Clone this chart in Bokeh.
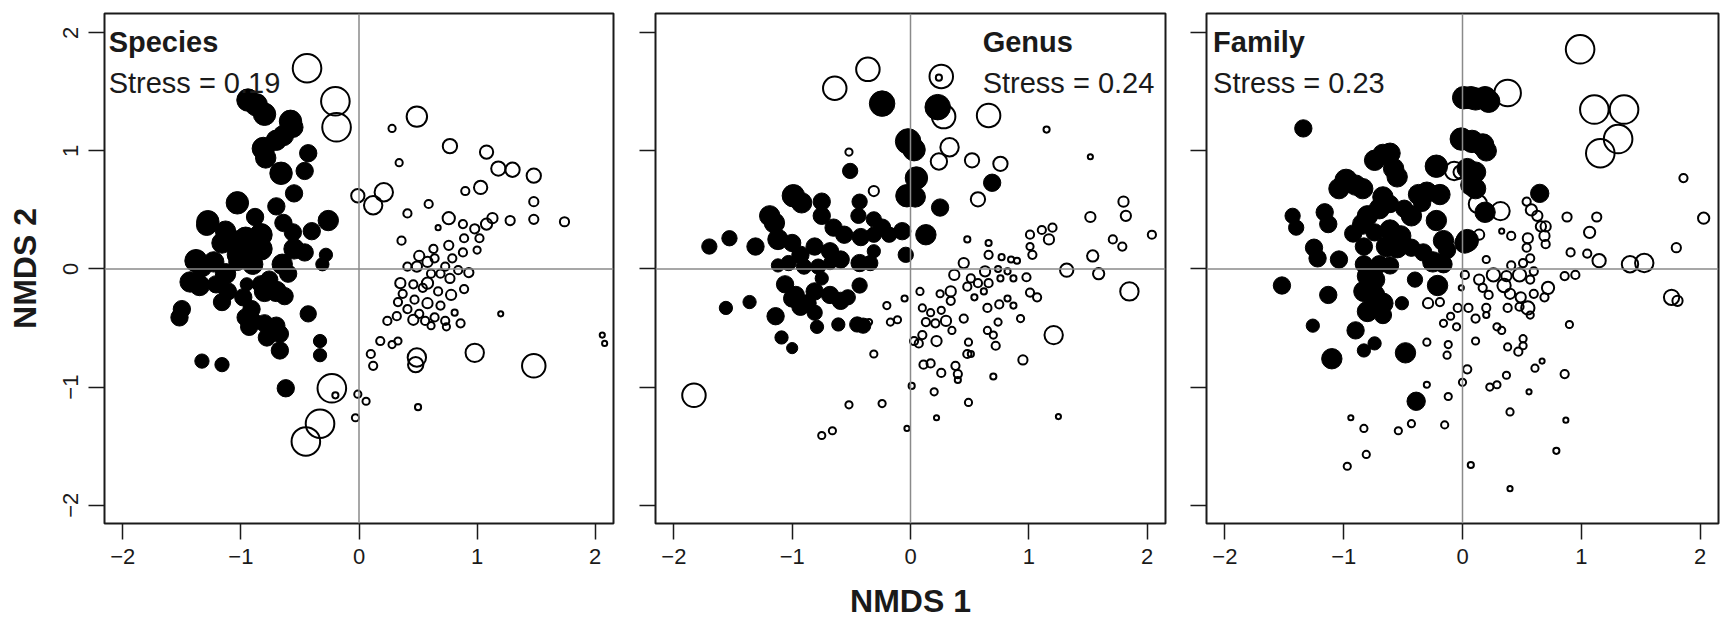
from bokeh.plotting import figure
from bokeh.layouts import row
from bokeh.models import Span, Label, FixedTicker, Range1d, ColumnDataSource
from bokeh.embed import file_html
from bokeh.resources import INLINE

# ---- data: (NMDS1, NMDS2, relative abundance / symbol cex) ----
species_filled = [
    (-0.94,1.43,2.2),(-0.87,1.39,2.2),(-0.80,1.31,2.2),(-0.58,1.25,2.2),(-0.56,1.20,2.0),(-0.64,1.13,2.0),
    (-0.70,1.09,2.0),(-0.81,1.02,2.2),(-0.79,0.94,2.0),(-0.66,0.81,2.2),(-0.43,0.98,1.7),(-0.46,0.83,1.7),
    (-0.55,0.64,1.7),(-1.03,0.56,2.2),(-1.28,0.40,2.2),(-1.29,0.37,2.0),(-1.13,0.32,2.0),(-0.88,0.44,1.7),
    (-0.70,0.53,1.7),(-0.64,0.39,1.7),(-0.56,0.31,1.7),(-0.40,0.32,1.7),(-0.26,0.41,2.0),(-1.16,0.22,2.0),
    (-1.06,0.24,2.0),(-0.96,0.26,2.2),(-0.83,0.29,2.2),(-0.83,0.17,2.2),(-1.03,0.12,2.0),(-0.91,0.12,2.0),
    (-0.55,0.17,2.0),(-0.46,0.14,1.7),(-0.28,0.12,1.3),(-0.31,0.04,1.3),(-1.38,0.07,2.2),(-1.33,0.02,2.0),
    (-1.23,0.06,2.0),(-1.13,-0.04,2.0),(-1.03,0.06,1.7),(-0.90,0.04,2.0),(-0.65,0.04,2.0),(-0.60,-0.04,1.7),
    (-1.43,-0.11,2.0),(-1.35,-0.14,2.0),(-1.21,-0.13,1.7),(-1.11,-0.19,1.7),(-1.16,-0.28,1.7),(-0.95,-0.13,1.3),
    (-0.83,-0.13,1.7),(-0.76,-0.09,1.7),(-0.80,-0.19,2.0),(-0.70,-0.19,2.0),(-0.63,-0.23,1.7),(-0.98,-0.24,1.7),
    (-0.91,-0.34,1.7),(-1.50,-0.34,1.7),(-1.52,-0.41,1.7),(-0.96,-0.41,1.7),(-0.90,-0.44,1.7),(-0.80,-0.46,1.7),
    (-0.70,-0.48,1.7),(-0.93,-0.49,1.7),(-0.78,-0.58,1.7),(-0.67,-0.55,1.7),(-0.67,-0.69,1.7),(-0.43,-0.38,1.6),
    (-0.33,-0.61,1.3),(-0.33,-0.73,1.3),(-1.33,-0.78,1.4),(-1.16,-0.81,1.4),(-0.62,-1.01,1.7),
]
species_open = [
    (-0.44,1.70,3.0),(-0.20,1.42,3.0),(-0.19,1.20,3.0),(0.49,1.29,2.2),(-0.23,-1.01,3.0),(-0.33,-1.31,3.0),
    (-0.45,-1.46,3.0),(1.48,-0.82,2.5),(0.98,-0.71,2.0),(0.49,-0.75,2.0),(0.48,-0.81,1.7),(0.77,1.04,1.6),
    (1.08,0.99,1.5),(1.18,0.85,1.6),(1.30,0.84,1.6),(1.48,0.79,1.6),(1.03,0.69,1.5),(0.21,0.65,2.0),
    (0.12,0.54,2.0),(-0.01,0.62,1.5),(0.28,1.19,0.9),(0.34,0.90,0.9),(0.90,0.66,1.0),(0.59,0.55,1.0),
    (0.41,0.47,1.0),(1.48,0.57,1.1),(1.48,0.42,1.1),(1.28,0.41,1.1),(1.74,0.40,1.1),(0.76,0.43,1.4),
    (1.08,0.38,1.3),(1.13,0.43,1.2),(0.67,0.35,0.7),(0.36,0.24,1.0),(0.88,0.38,1.0),(0.98,0.34,1.1),
    (1.02,0.26,1.0),(0.89,0.26,1.0),(1.00,0.16,0.9),(0.76,0.20,1.1),(0.88,0.14,1.0),(0.63,0.17,1.0),
    (0.51,0.11,1.2),(0.58,0.06,1.2),(0.64,0.09,1.0),(0.73,0.02,1.0),(0.79,0.09,1.0),(0.41,0.02,1.0),
    (0.49,0.02,1.2),(0.61,-0.04,1.0),(0.69,-0.04,1.0),(0.77,-0.08,1.1),(0.84,-0.01,1.0),(0.93,-0.03,1.1),
    (0.35,-0.12,1.2),(0.46,-0.13,1.0),(0.54,-0.16,1.0),(0.58,-0.12,1.3),(0.67,-0.19,1.0),(0.78,-0.22,1.2),
    (0.89,-0.17,1.0),(0.37,-0.21,1.0),(0.47,-0.26,1.0),(0.58,-0.29,1.2),(0.69,-0.31,1.0),(0.81,-0.37,0.8),
    (0.33,-0.28,1.0),(0.41,-0.34,1.0),(0.51,-0.38,1.0),(0.56,-0.44,1.0),(0.64,-0.41,1.0),(0.73,-0.44,1.0),
    (0.46,-0.43,1.2),(0.61,-0.48,0.9),(0.86,-0.46,1.0),(0.74,-0.49,0.9),(0.24,-0.44,1.0),(0.32,-0.40,1.0),
    (1.20,-0.38,0.7),(0.18,-0.61,1.0),(0.28,-0.64,0.9),(0.33,-0.61,0.9),(0.10,-0.72,1.0),(0.12,-0.82,1.0),
    (-0.01,-1.06,0.9),(0.06,-1.12,0.9),(-0.20,-1.07,0.8),(-0.03,-1.26,0.9),(0.50,-1.17,0.8),(2.06,-0.56,0.7),
    (2.08,-0.63,0.7),
]
genus_filled = [
    (-0.24,1.40,2.5),(0.23,1.37,2.5),(-0.02,1.08,2.5),(0.03,1.01,2.2),(0.05,0.77,2.2),(-0.03,0.62,2.2),
    (0.04,0.61,2.0),(0.69,0.73,1.7),(-0.51,0.83,1.5),(0.25,0.52,1.7),(0.13,0.29,2.0),(-0.99,0.62,2.2),
    (-0.92,0.56,2.0),(-1.19,0.45,2.0),(-1.15,0.39,2.0),(-0.75,0.57,1.7),(-0.75,0.45,1.7),(-0.65,0.35,1.7),
    (-0.56,0.29,1.7),(-0.43,0.57,1.5),(-0.44,0.45,1.5),(-0.31,0.42,1.5),(-0.24,0.35,1.7),(-0.18,0.29,1.5),
    (-0.07,0.32,1.7),(-0.42,0.27,1.7),(-0.31,0.29,1.5),(-1.53,0.26,1.5),(-1.70,0.19,1.5),(-1.31,0.19,1.7),
    (-1.12,0.25,2.0),(-1.00,0.22,1.7),(-0.93,0.12,1.7),(-0.81,0.19,1.7),(-0.68,0.15,1.7),(-0.59,0.08,1.7),
    (-0.43,0.05,1.7),(-0.34,0.05,1.5),(-0.31,0.15,1.3),(-0.04,0.12,1.5),(-1.12,0.03,1.3),(-1.03,0.05,1.5),
    (-0.90,0.02,1.5),(-0.78,0.02,1.5),(-0.68,0.05,1.3),(-1.06,-0.13,1.7),(-0.97,-0.22,1.7),(-0.87,-0.29,1.7),
    (-0.81,-0.19,1.7),(-0.75,-0.08,1.3),(-0.68,-0.22,1.7),(-0.59,-0.27,1.7),(-0.53,-0.24,1.5),(-0.43,-0.14,1.5),
    (-0.93,-0.32,1.7),(-0.81,-0.37,1.5),(-1.00,-0.25,1.7),(-1.36,-0.28,1.3),(-1.56,-0.33,1.3),(-1.14,-0.40,1.7),
    (-0.79,-0.49,1.3),(-0.61,-0.47,1.3),(-0.45,-0.47,1.5),(-0.40,-0.48,1.5),(-1.09,-0.58,1.3),(-1.00,-0.67,1.1),
]
genus_open = [
    (-0.36,1.69,2.5),(-0.64,1.53,2.5),(0.26,1.63,2.5),(0.24,1.62,0.8),(0.28,1.29,2.5),(0.66,1.30,2.5),
    (0.33,1.03,2.0),(0.24,0.91,1.8),(0.52,0.92,1.6),(0.76,0.89,1.6),(0.57,0.59,1.6),(-0.52,0.99,0.9),
    (-0.31,0.66,1.2),(1.15,1.18,0.8),(1.52,0.95,0.7),(1.80,0.57,1.2),(1.82,0.45,1.2),(1.52,0.44,1.2),
    (2.04,0.29,1.0),(1.71,0.25,1.0),(1.79,0.19,1.0),(1.54,0.11,1.3),(1.59,-0.04,1.3),(1.32,-0.01,1.5),
    (1.85,-0.19,2.0),(1.21,-0.56,2.0),(0.95,-0.77,1.1),(-1.83,-1.07,2.5),(0.48,0.25,0.8),(0.66,0.22,0.8),
    (1.01,0.29,1.0),(1.11,0.33,1.0),(1.20,0.35,1.0),(1.17,0.25,1.2),(1.01,0.19,0.9),(1.03,0.12,1.0),
    (0.66,0.12,1.0),(0.77,0.10,0.8),(0.85,0.08,0.8),(0.90,0.07,0.8),(0.45,0.05,1.2),(0.37,-0.05,1.2),
    (0.63,-0.02,1.2),(0.74,0.00,0.8),(0.82,-0.02,0.8),(0.98,-0.07,1.0),(0.51,-0.08,1.0),(0.57,-0.12,1.0),
    (0.66,-0.12,1.0),(0.76,-0.08,0.8),(0.87,-0.08,0.8),(0.48,-0.15,1.0),(0.62,-0.19,0.8),(0.54,-0.24,0.8),
    (1.01,-0.20,1.0),(1.07,-0.24,1.0),(0.82,-0.25,0.8),(0.87,-0.31,0.8),(0.34,-0.19,1.2),(0.25,-0.21,0.9),
    (0.08,-0.19,0.9),(-0.05,-0.25,0.8),(0.34,-0.27,1.0),(0.65,-0.33,1.0),(0.75,-0.30,1.0),(0.10,-0.33,0.9),
    (0.17,-0.37,0.9),(0.26,-0.35,0.9),(0.30,-0.44,1.2),(0.45,-0.42,1.0),(0.13,-0.45,1.0),(0.21,-0.46,1.0),
    (0.35,-0.52,0.9),(0.74,-0.45,0.9),(0.65,-0.52,0.9),(0.70,-0.56,0.9),(0.93,-0.42,0.9),(0.10,-0.56,1.0),
    (0.03,-0.61,1.0),(0.22,-0.61,1.2),(0.49,-0.62,0.9),(0.48,-0.72,1.0),(0.72,-0.65,1.0),(0.07,-0.63,1.0),
    (0.51,-0.72,0.8),(0.11,-0.81,1.0),(0.17,-0.80,1.0),(0.26,-0.88,1.0),(0.38,-0.82,1.0),(0.40,-0.89,1.0),
    (0.40,-0.94,0.8),(0.70,-0.91,0.8),(0.01,-0.99,0.8),(0.20,-1.04,0.9),(0.49,-1.13,0.9),(-0.20,-0.31,0.9),
    (-0.17,-0.45,0.9),(-0.11,-0.43,0.9),(-0.35,-0.45,0.8),(-0.31,-0.72,0.9),(-0.52,-1.15,0.9),(-0.24,-1.14,0.9),
    (0.22,-1.26,0.7),(1.25,-1.25,0.7),(-0.03,-1.35,0.7),(-0.75,-1.41,0.9),(-0.66,-1.37,0.9),
]
family_filled = [
    (-1.34,1.19,1.7),(0.01,1.45,2.2),(0.07,1.45,2.2),(0.11,1.44,2.2),(0.19,1.45,2.2),(0.22,1.42,2.2),
    (-0.01,1.10,2.2),(0.08,1.08,2.2),(0.17,1.05,2.2),(0.20,1.00,2.0),(-0.22,0.87,2.2),(0.04,0.85,2.0),
    (0.11,0.82,2.0),(0.07,0.71,2.0),(0.11,0.68,2.0),(0.19,0.48,2.0),(0.65,0.64,1.8),(0.04,0.24,2.2),
    (0.02,0.22,2.0),(-0.67,0.97,2.0),(-0.61,0.98,2.0),(-0.74,0.92,2.0),(-0.58,0.85,2.0),(-0.55,0.78,2.0),
    (-0.98,0.75,2.2),(-0.90,0.71,2.0),(-1.04,0.68,2.0),(-0.84,0.68,2.0),(-0.37,0.63,2.0),(-0.30,0.65,2.0),
    (-0.19,0.63,2.0),(-0.34,0.56,1.7),(-0.67,0.61,2.0),(-0.70,0.51,2.0),(-0.61,0.55,1.7),(-0.49,0.51,1.7),
    (-0.43,0.45,2.0),(-0.80,0.45,2.0),(-0.84,0.38,2.0),(-0.22,0.41,2.0),(-1.16,0.48,1.7),(-1.13,0.38,1.7),
    (-1.43,0.45,1.5),(-1.40,0.35,1.5),(-0.92,0.30,1.7),(-0.74,0.31,1.7),(-0.61,0.33,2.0),(-0.52,0.28,2.0),
    (-0.64,0.19,2.0),(-0.55,0.18,2.0),(-0.43,0.18,1.7),(-0.33,0.14,1.7),(-0.16,0.24,2.0),(-0.13,0.16,1.7),
    (-0.25,0.06,2.0),(-0.16,0.04,1.7),(-1.25,0.18,1.7),(-1.22,0.09,1.7),(-1.04,0.08,1.7),(-0.83,0.19,1.7),
    (-0.70,0.04,1.7),(-0.61,0.03,1.7),(-0.83,0.04,1.7),(-0.80,-0.06,2.0),(-0.74,-0.09,2.0),(-0.83,-0.19,2.0),
    (-0.74,-0.22,2.0),(-0.67,-0.29,2.0),(-0.80,-0.36,2.0),(-0.67,-0.39,1.7),(-0.40,-0.09,1.5),(-0.21,-0.14,2.0),
    (-0.51,-0.29,1.3),(-1.52,-0.14,1.7),(-1.13,-0.22,1.7),(-1.26,-0.48,1.3),(-0.90,-0.52,1.7),(-0.83,-0.69,1.3),
    (-0.74,-0.63,1.3),(-1.10,-0.76,2.0),(-0.48,-0.71,2.0),(-0.39,-1.12,1.8),
]
family_open = [
    (0.99,1.86,3.0),(0.38,1.49,2.8),(1.11,1.35,3.0),(1.36,1.35,3.0),(1.31,1.10,3.0),(1.16,0.98,3.0),
    (-0.07,0.83,2.0),(-0.02,0.82,1.5),(0.13,0.55,2.0),(0.32,0.49,2.0),(0.54,0.57,1.0),(0.58,0.50,1.3),
    (0.63,0.45,1.2),(0.66,0.36,1.2),(0.70,0.36,1.2),(0.69,0.28,1.2),(0.70,0.21,1.0),(0.88,0.44,1.1),
    (1.13,0.44,1.1),(1.07,0.31,1.3),(1.86,0.77,1.0),(2.03,0.43,1.3),(1.80,0.18,1.1),(0.91,0.14,1.0),
    (1.05,0.13,1.0),(1.15,0.07,1.5),(1.41,0.04,1.8),(1.53,0.05,2.0),(1.76,-0.24,1.7),(1.81,-0.27,1.2),
    (0.95,-0.05,1.0),(0.86,-0.06,1.0),(0.72,-0.16,1.4),(0.69,-0.24,1.0),(0.14,0.29,1.2),(0.33,0.32,0.7),
    (0.41,0.28,1.0),(0.55,0.26,1.2),(0.54,0.18,1.0),(0.57,0.09,1.0),(0.51,0.05,1.0),(0.41,0.03,1.0),
    (0.20,0.08,0.9),(0.26,-0.05,1.5),(0.37,-0.06,1.2),(0.48,-0.05,1.5),(0.60,-0.02,1.0),(0.57,-0.09,1.0),
    (0.02,-0.05,1.0),(0.14,-0.09,1.2),(0.17,-0.16,1.0),(0.22,-0.22,1.0),(0.35,-0.14,1.5),(0.40,-0.21,1.2),
    (0.49,-0.24,1.2),(0.60,-0.21,1.0),(-0.01,-0.16,0.7),(-0.29,-0.29,1.2),(-0.19,-0.28,1.0),(-0.04,-0.33,1.0),
    (0.05,-0.33,1.0),(0.11,-0.42,1.0),(0.20,-0.33,1.0),(0.20,-0.39,0.8),(0.57,-0.39,0.9),(0.38,-0.33,1.0),
    (0.48,-0.32,1.0),(0.55,-0.33,1.5),(0.90,-0.47,0.9),(-0.10,-0.40,0.9),(-0.16,-0.46,0.9),(-0.05,-0.49,0.9),
    (0.29,-0.49,0.9),(0.33,-0.52,0.9),(-0.30,-0.62,0.9),(-0.12,-0.64,0.9),(-0.13,-0.73,0.9),(0.11,-0.61,0.9),
    (0.38,-0.66,0.9),(0.47,-0.70,1.0),(0.51,-0.65,0.9),(0.51,-0.59,0.9),(0.61,-0.84,0.9),(0.67,-0.78,0.7),
    (0.86,-0.89,1.0),(0.04,-0.85,1.0),(0.00,-0.96,0.9),(0.23,-1.00,0.9),(0.29,-0.98,0.9),(0.37,-0.90,0.9),
    (-0.30,-0.98,0.8),(-0.12,-1.08,0.9),(0.56,-1.04,0.7),(0.40,-1.21,0.9),(0.87,-1.28,0.7),(-0.94,-1.26,0.7),
    (-0.83,-1.35,0.9),(-0.43,-1.31,0.9),(-0.54,-1.37,0.9),(-0.15,-1.32,0.9),(-0.81,-1.57,0.9),(-0.97,-1.67,0.9),
    (0.07,-1.66,0.8),(0.79,-1.54,0.8),(0.40,-1.86,0.7),
]
panel_titles = ["Species", "Genus", "Family"]
stress_values = ["0.19", "0.24", "0.23"]
axis_ticks = [-2, -1, 0, 1, 2]
tick_labels = {-2: "\u22122", -1: "\u22121", 0: "0", 1: "1", 2: "2"}
x_title = "NMDS 1"
y_title = "NMDS 2"

FONT = "Liberation Sans"
INK = "#1a1a1a"
PX_PER_CEX = 10.2


def src(points, open_marker):
    xs = [p[0] for p in points]
    ys = [p[1] for p in points]
    if open_marker:
        sz = [p[2] * PX_PER_CEX - 2 for p in points]
    else:
        sz = [p[2] * PX_PER_CEX for p in points]
    return ColumnDataSource(dict(x=xs, y=ys, s=sz))


def panel(idx, filled, opened, width, bl, br, title_x, show_ylabels, xlabel):
    p = figure(width=width, height=622, x_range=Range1d(-2.155, 2.155), y_range=Range1d(-2.155, 2.163),
               output_backend="svg", toolbar_location=None,
               min_border_left=bl, min_border_right=br, min_border_top=13, min_border_bottom=99)
    p.grid.visible = False
    p.background_fill_color = "white"
    p.border_fill_color = "white"
    p.outline_line_color = INK
    p.outline_line_width = 2
    p.add_layout(Span(location=0, dimension="height", line_color="#8a8a8a", line_width=1.5))
    p.add_layout(Span(location=0, dimension="width", line_color="#8a8a8a", line_width=1.5))

    p.scatter("x", "y", size="s", source=src(filled, False), marker="circle",
              fill_color="black", line_color="black", line_width=1)
    p.scatter("x", "y", size="s", source=src(opened, True), marker="circle",
              fill_color=None, line_color="black", line_width=2)

    for ax in (p.xaxis[0], p.yaxis[0]):
        ax.ticker = FixedTicker(ticks=axis_ticks)
        ax.major_label_overrides = tick_labels
        ax.axis_line_color = None
        ax.major_tick_in = 0
        ax.major_tick_out = 16
        ax.major_tick_line_color = INK
        ax.major_tick_line_width = 1.5
        ax.minor_tick_line_color = None
        ax.major_label_text_font = FONT
        ax.major_label_text_font_size = "22px"
        ax.major_label_text_color = INK
        ax.axis_label_text_font = FONT
        ax.axis_label_text_font_style = "bold"
        ax.axis_label_text_font_size = "32px"
        ax.axis_label_text_color = INK
    p.xaxis.major_label_standoff = 9
    if xlabel:
        p.xaxis.axis_label = x_title
        p.xaxis.axis_label_standoff = 16
    if show_ylabels:
        p.yaxis.major_label_orientation = "parallel"
        p.yaxis.major_label_standoff = 10
        p.yaxis.axis_label = y_title
        p.yaxis.axis_label_standoff = 18
    else:
        p.yaxis.major_label_overrides = {t: "" for t in axis_ticks}
        p.yaxis.major_label_standoff = 0

    p.add_layout(Label(x=title_x, y=1.92, text=panel_titles[idx], text_font=FONT, text_font_style="bold",
                       text_font_size="29px", text_color=INK, text_baseline="alphabetic", text_align="left"))
    p.add_layout(Label(x=title_x, y=1.575, text="Stress = " + stress_values[idx], text_font=FONT,
                       text_font_size="29px", text_color=INK, text_baseline="alphabetic", text_align="left"))
    return p


p1 = panel(0, species_filled, species_open, 634, 104, 21, -2.12, True, False)
p2 = panel(1, genus_filled, genus_open, 551, 21, 20, 0.61, False, True)
p3 = panel(2, family_filled, family_open, 536, 21, 3, -2.10, False, False)

layout = row(p1, p2, p3, spacing=0)
open("out.html", "w").write(file_html(layout, INLINE))
